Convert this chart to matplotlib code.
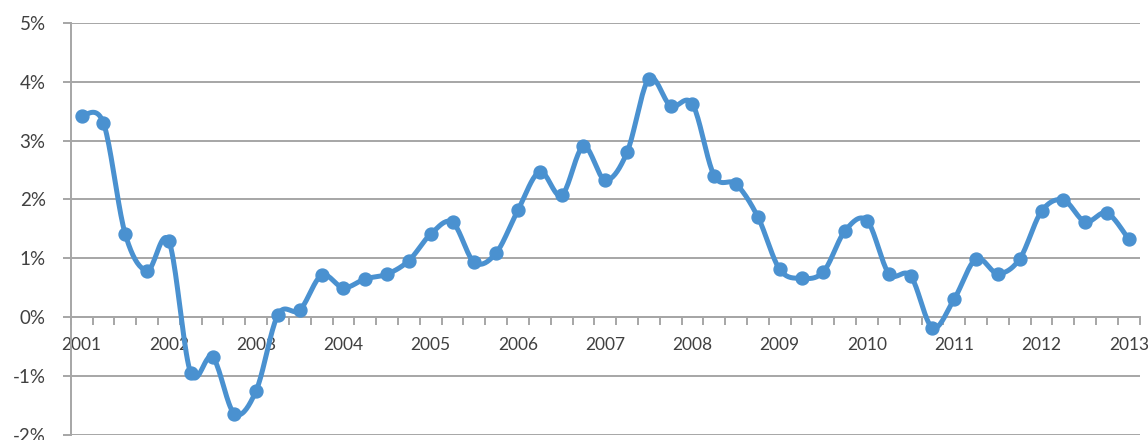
import numpy as np
import matplotlib
matplotlib.use("Agg")
import matplotlib.pyplot as plt
from matplotlib.ticker import FixedLocator, FixedFormatter

# quarterly values, 2001Q1 .. 2013Q1 (percent)
values = [3.42, 3.30, 1.41, 0.79, 1.29, -0.95, -0.68, -1.64, -1.25, 0.04,
          0.12, 0.71, 0.50, 0.65, 0.73, 0.96, 1.41, 1.61, 0.93, 1.09,
          1.82, 2.47, 2.07, 2.90, 2.33, 2.80, 4.05, 3.59, 3.62, 2.40,
          2.26, 1.70, 0.81, 0.66, 0.77, 1.47, 1.64, 0.74, 0.70, -0.18,
          0.31, 0.99, 0.74, 0.99, 1.80, 1.99, 1.62, 1.77, 1.32]
year_labels = [str(y) for y in range(2001, 2014)]
y_ticks = [-2, -1, 0, 1, 2, 3, 4, 5]

LINE = "#4A91D0"
GRID = "#A6A6A6"
TXT = "#404040"
plt.rcParams['font.family'] = ['Lato', 'DejaVu Sans']

fig = plt.figure(figsize=(11.48, 4.40), dpi=100)
ax = fig.add_axes([0.0616, 0.012, 0.9312, 0.9358])

y = np.asarray(values, dtype=float)
x = np.arange(len(y), dtype=float)

# smoothed line (Catmull-Rom through the data points)
def smooth(xp, yp, n=20):
    P = np.column_stack([xp, yp])
    P = np.vstack([P[0], P, P[-1]])
    out = []
    for i in range(1, len(P) - 2):
        p0, p1, p2, p3 = P[i - 1], P[i], P[i + 1], P[i + 2]
        c1 = p1 + (p2 - p0) / 6.0
        c2 = p2 - (p3 - p1) / 6.0
        t = np.linspace(0, 1, n, endpoint=False)[:, None]
        b = ((1 - t) ** 3) * p1 + 3 * ((1 - t) ** 2) * t * c1 + 3 * (1 - t) * t ** 2 * c2 + t ** 3 * p2
        out.append(b)
    out.append(P[-2][None, :])
    out = np.vstack(out)
    return out[:, 0], out[:, 1]

sx, sy = smooth(x, y)
ax.plot(sx, sy, color=LINE, lw=3.6, solid_capstyle='round', zorder=3)
ax.plot(x, y, 'o', color=LINE, ms=9.3, zorder=4)

ax.set_xlim(-0.5, len(y) - 0.5)
ax.set_ylim(-2, 5)

ax.set_yticks(y_ticks)
ax.set_yticklabels([f"{v}%" for v in y_ticks])
ax.grid(axis='y', color=GRID, lw=1.4)
ax.set_axisbelow(True)

for s in ['top', 'right']:
    ax.spines[s].set_visible(False)
ax.spines['left'].set_color(GRID)
ax.spines['left'].set_linewidth(1.4)
ax.spines['bottom'].set_position(('data', 0))
ax.spines['bottom'].set_color(GRID)
ax.spines['bottom'].set_linewidth(1.4)

ax.tick_params(axis='y', length=6, width=1.4, color=GRID, labelsize=13.5,
               labelcolor=TXT, pad=12)

# category boundaries as major ticks, labels at category centers (minor)
ax.xaxis.set_major_locator(FixedLocator(np.arange(-0.5, len(y), 1.0)))
ax.xaxis.set_major_formatter(FixedFormatter([""] * (len(y) + 1)))
ax.xaxis.set_minor_locator(FixedLocator(np.arange(0, len(y), 4)))
ax.xaxis.set_minor_formatter(FixedFormatter(year_labels))
ax.tick_params(axis='x', which='major', length=5.5, width=1.4, color=GRID, direction='out')
ax.tick_params(axis='x', which='minor', length=0, labelsize=12.5, labelcolor=TXT, pad=14)

fig.savefig("out.png", dpi=100)
